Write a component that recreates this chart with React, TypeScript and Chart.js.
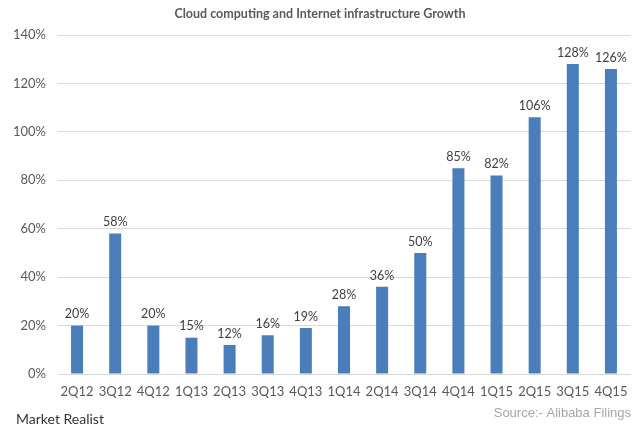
import React, { useEffect, useRef } from "react";
import { Chart, registerables } from "chart.js";

Chart.register(...registerables);

const categories = ["2Q12", "3Q12", "4Q12", "1Q13", "2Q13", "3Q13", "4Q13", "1Q14", "2Q14", "3Q14", "4Q14", "1Q15", "2Q15", "3Q15", "4Q15"];
const growth = [20, 58, 20, 15, 12, 16, 19, 28, 36, 50, 85, 82, 106, 128, 126];
const titleText = "Cloud computing and Internet infrastructure Growth";
const sourceText = "Source:- Alibaba Filings";
const brandText = "Market Realist";

const FONT = "Lato, 'Open Sans', sans-serif";

const overlayPlugin = {
  id: "overlay",
  afterDatasetsDraw(chart: any) {
    const ctx = chart.ctx;
    const meta = chart.getDatasetMeta(0);
    ctx.save();
    ctx.font = `12.5px ${FONT}`;
    ctx.fillStyle = "#404040";
    ctx.textAlign = "center";
    ctx.textBaseline = "bottom";
    meta.data.forEach((bar: any, i: number) => {
      ctx.fillText(growth[i] + "%", bar.x, bar.y - 5);
    });
    ctx.restore();
  },
  afterDraw(chart: any) {
    const ctx = chart.ctx;
    ctx.save();
    ctx.font = `bold 12.5px ${FONT}`;
    ctx.fillStyle = "#595959";
    ctx.textAlign = "center";
    ctx.textBaseline = "middle";
    ctx.fillText(titleText, 320, 14);
    ctx.font = "13px 'Liberation Sans', Arial, sans-serif";
    ctx.fillStyle = "#a6a6a6";
    ctx.textAlign = "right";
    ctx.fillText(sourceText, 631, 413);
    ctx.font = `14px ${FONT}`;
    ctx.fillStyle = "#333333";
    ctx.textAlign = "left";
    ctx.fillText(brandText, 16, 419);
    ctx.restore();
  },
};

export default function App() {
  const ref = useRef<HTMLCanvasElement>(null);
  useEffect(() => {
    if (!ref.current) return;
    const chart = new Chart(ref.current, {
      type: "bar",
      data: {
        labels: categories,
        datasets: [
          {
            data: growth,
            backgroundColor: "#4a7ebb",
            categoryPercentage: 0.9,
            barPercentage: 0.35,
          },
        ],
      },
      options: {
        animation: false,
        responsive: false,
        layout: { padding: { top: 35, right: 10, left: 0, bottom: 0 } },
        plugins: { legend: { display: false }, tooltip: { enabled: false }, title: { display: false } },
        scales: {
          x: {
            grid: { display: false, drawTicks: false },
            border: { color: "#d9d9d9" },
            ticks: { color: "#595959", font: { family: FONT, size: 13 }, padding: 10, maxRotation: 0, autoSkip: false },
            afterFit(scale: any) {
              scale.height = 57;
            },
          },
          y: {
            min: 0,
            max: 140,
            grid: { color: "#d9d9d9", drawTicks: false },
            border: { display: false },
            ticks: {
              stepSize: 20,
              color: "#595959",
              font: { family: FONT, size: 13 },
              padding: 12,
              callback: (v: any) => v + "%",
            },
            afterFit(scale: any) {
              scale.width = 58;
            },
          },
        },
      },
      plugins: [overlayPlugin],
    });
    return () => chart.destroy();
  }, []);
  return (
    <div style={{ position: "fixed", left: 0, top: 0, width: 640, height: 431, background: "#fff" }}>
      <canvas ref={ref} width={640} height={431} style={{ width: 640, height: 431 }} />
    </div>
  );
}
